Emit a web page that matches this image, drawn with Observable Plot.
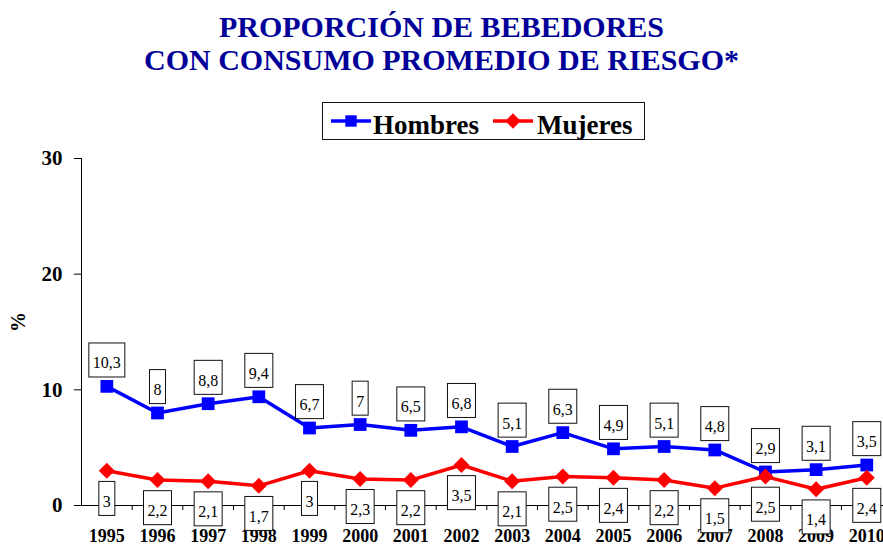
<!DOCTYPE html>
<html><head><meta charset="utf-8">
<script src="https://cdn.jsdelivr.net/npm/d3@7"></script>
<script src="https://cdn.jsdelivr.net/npm/@observablehq/plot@0.6"></script>
<style>
body{margin:0;background:#fff;font-family:"Liberation Serif","Times New Roman",serif;}
#head{position:relative;width:883px;height:141px;}
#title{position:absolute;left:0;top:10px;width:883px;text-align:center;color:#000099;font-weight:bold;font-size:30px;line-height:33px;}
#legend{position:absolute;left:322px;top:102px;width:323px;height:38px;}
#chart svg{display:block;}
</style></head><body>
<div id="head">
  <div id="title">PROPORCIÓN DE BEBEDORES<br>CON CONSUMO PROMEDIO DE RIESGO*</div>
  <div id="legend"></div>
</div>
<div id="chart"></div>
<script>
const years = [1995,1996,1997,1998,1999,2000,2001,2002,2003,2004,2005,2006,2007,2008,2009,2010];
const hombres = [10.3,8,8.8,9.4,6.7,7,6.5,6.8,5.1,6.3,4.9,5.1,4.8,2.9,3.1,3.5];
const mujeres = [3,2.2,2.1,1.7,3,2.3,2.2,3.5,2.1,2.5,2.4,2.2,1.5,2.5,1.4,2.4];
const yTicks = [0,10,20,30];
const seriesNames = ["Hombres","Mujeres"];
const seriesColors = ["#0000FF","#FF0000"];

const hData = years.map((year,i)=>({year, value:hombres[i], serie:seriesNames[0]}));
const mData = years.map((year,i)=>({year, value:mujeres[i], serie:seriesNames[1]}));
const halfYears = years.slice(0,-1).map(y=>y+0.5);
const fmt = v => String(v).replace(".", ",");

const chart = Plot.plot({
  width: 883, height: 405,
  marginLeft: 81, marginRight: 0, marginTop: 17, marginBottom: 41,
  style: {fontFamily: '"Liberation Serif","Times New Roman",serif', color: "black", background: "white", overflow: "visible"},
  x: {domain: [1994.5, 2010.33]},
  y: {domain: [0, 30]},
  marks: [
    Plot.ruleY([0], {stroke: "black", strokeWidth: 1}),
    Plot.ruleX([1994.5], {y1: 0, y2: 30, stroke: "black", strokeWidth: 1}),
    Plot.axisX({ticks: halfYears, tickSize: 5, tickFormat: () => "", label: null, strokeWidth: 1}),
    Plot.axisX({ticks: years, tickSize: 0, tickPadding: 24, tickFormat: d => String(d), label: null, fontSize: 18, fontWeight: "bold"}),
    Plot.axisY({ticks: yTicks, tickSize: 7, tickPadding: 12, tickFormat: d => String(d), label: null, fontSize: 21, fontWeight: "bold"}),
    Plot.text(["%"], {frameAnchor: "left", dx: -63, rotate: -90, fontSize: 20, fontWeight: "bold", fill: "black"}),
    Plot.line(hData, {x: "year", y: "value", stroke: seriesColors[0], strokeWidth: 3.5}),
    Plot.line(mData, {x: "year", y: "value", stroke: seriesColors[1], strokeWidth: 3.5}),
    Plot.dot(hData, {x: "year", y: "value", symbol: "square", r: 7.2, fill: seriesColors[0], stroke: "none"}),
    Plot.dot(mData, {x: "year", y: "value", symbol: "diamond2", r: 7.2, fill: seriesColors[1], stroke: "none"}),
    Plot.text(hData, {x: "year", y: "value", text: d => fmt(d.value), dy: -23, fontSize: 16, fill: "black", ariaDescription: "datalabel"}),
    Plot.text(mData, {x: "year", y: "value", text: d => fmt(d.value), dy: 31, fontSize: 16, fill: "black", ariaDescription: "datalabel"})
  ]
});
document.getElementById("chart").appendChild(chart);

// white boxes behind the data labels
const NS = "http://www.w3.org/2000/svg";
chart.querySelectorAll('g[aria-description="datalabel"] text').forEach(t => {
  const b = t.getBBox();
  const cy = b.y + b.height/2;
  const r = document.createElementNS(NS, "rect");
  r.setAttribute("x", b.x - 4);
  r.setAttribute("y", cy - 20);
  r.setAttribute("width", b.width + 8);
  r.setAttribute("height", 34);
  r.setAttribute("fill", "white");
  r.setAttribute("stroke", "#111");
  r.setAttribute("stroke-width", 1);
  if (t.getAttribute("transform")) r.setAttribute("transform", t.getAttribute("transform"));
  t.parentNode.insertBefore(r, t);
});

// legend
const lg = d3.select("#legend").append("svg").attr("width", 323).attr("height", 38)
  .style("display","block").style("font-family", '"Liberation Serif","Times New Roman",serif');
lg.append("rect").attr("x",0.5).attr("y",0.5).attr("width",322).attr("height",37).attr("fill","white").attr("stroke","#111");
const items = [
  {name: seriesNames[0], color: seriesColors[0], x: 9, sym: d3.symbolSquare, size: 130, tx: 51},
  {name: seriesNames[1], color: seriesColors[1], x: 171, sym: d3.symbolDiamond2, size: 150, tx: 215}
];
items.forEach(it => {
  lg.append("line").attr("x1", it.x).attr("x2", it.x+40).attr("y1", 19).attr("y2", 19)
    .attr("stroke", it.color).attr("stroke-width", 3.5);
  lg.append("path").attr("d", d3.symbol(it.sym, it.size)()).attr("transform", `translate(${it.x+20},19)`).attr("fill", it.color);
  lg.append("text").attr("x", it.tx).attr("y", 32).attr("font-size", 27).attr("font-weight", "bold").attr("fill","black").text(it.name);
});
</script>
</body></html>
